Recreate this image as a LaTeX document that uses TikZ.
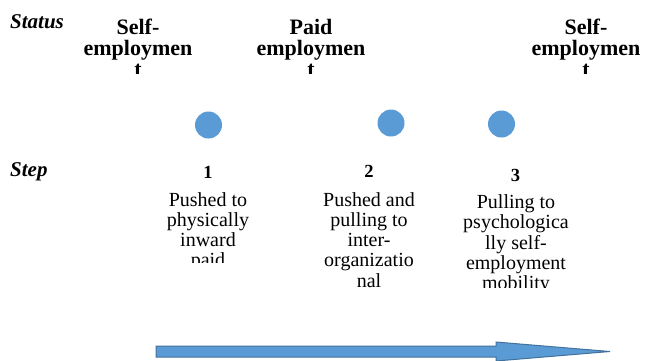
\documentclass[tikz,border=0pt]{standalone}
\usepackage{fontspec}
\setmainfont{Liberation Serif}
\definecolor{dotblue}{HTML}{5B9BD5}
\definecolor{edgeblue}{HTML}{41719C}
\begin{document}
\begin{tikzpicture}[x=1pt,y=-1pt,
 rowlabel/.style={font=\fontsize{21}{21}\selectfont\bfseries\itshape, inner sep=0, anchor=base west},
 statustext/.style={font=\fontsize{22}{21}\selectfont\bfseries, align=center, inner sep=0, anchor=base},
 stepnum/.style={font=\fontsize{18.5}{20}\selectfont\bfseries, inner sep=0, anchor=base},
 desc/.style={font=\fontsize{20}{20.3}\selectfont, align=center, inner sep=0, anchor=base},
 dot/.style={circle, fill=dotblue, minimum size=27pt, inner sep=0}]
\useasboundingbox (0,0) rectangle (645,360);
\node[rowlabel] (status) at (10,28) {Status};
\node[rowlabel] (steplabel) at (10,176) {Step};
% base anchor = baseline of the last line
\begin{scope}
\clip (0,0) rectangle (645,73);
\node[statustext] (s1) at (138,76) {Self-\\employmen\\t};
\node[statustext] (s2) at (311,76) {Paid\\employmen\\t};
\node[statustext] (s3) at (586,76) {Self-\\employmen\\t};
\end{scope}
\node[dot] (d1) at (208.5,125) {};
\node[dot] (d2) at (391,123) {};
\node[dot] (d3) at (501.5,124) {};
\node[stepnum] (n1) at (208,178) {1};
\node[stepnum] (n2) at (369,177) {2};
\node[stepnum] (n3) at (515.5,181) {3};
\begin{scope}
\clip (100,185) rectangle (300,262);
\node[desc] (t1) at (208,266.9) {Pushed to\\physically\\inward\\paid};
\end{scope}
\begin{scope}
\clip (300,185) rectangle (450,296);
\node[desc] (t2) at (369,287.2) {Pushed and\\pulling to\\inter-\\organizatio\\nal};
\end{scope}
\begin{scope}
\clip (450,185) rectangle (645,287);
\node[desc] (t3) at (516,289.7) {Pulling to\\psychologica\\lly self-\\employment\\mobility};
\end{scope}
\draw[fill=dotblue, draw=edgeblue, line width=1pt, line join=miter]
 (156,346) -- (496,346) -- (496,342) -- (610,351.5) -- (496,361) -- (496,357) -- (156,357) -- cycle;
\end{tikzpicture}
\end{document}
